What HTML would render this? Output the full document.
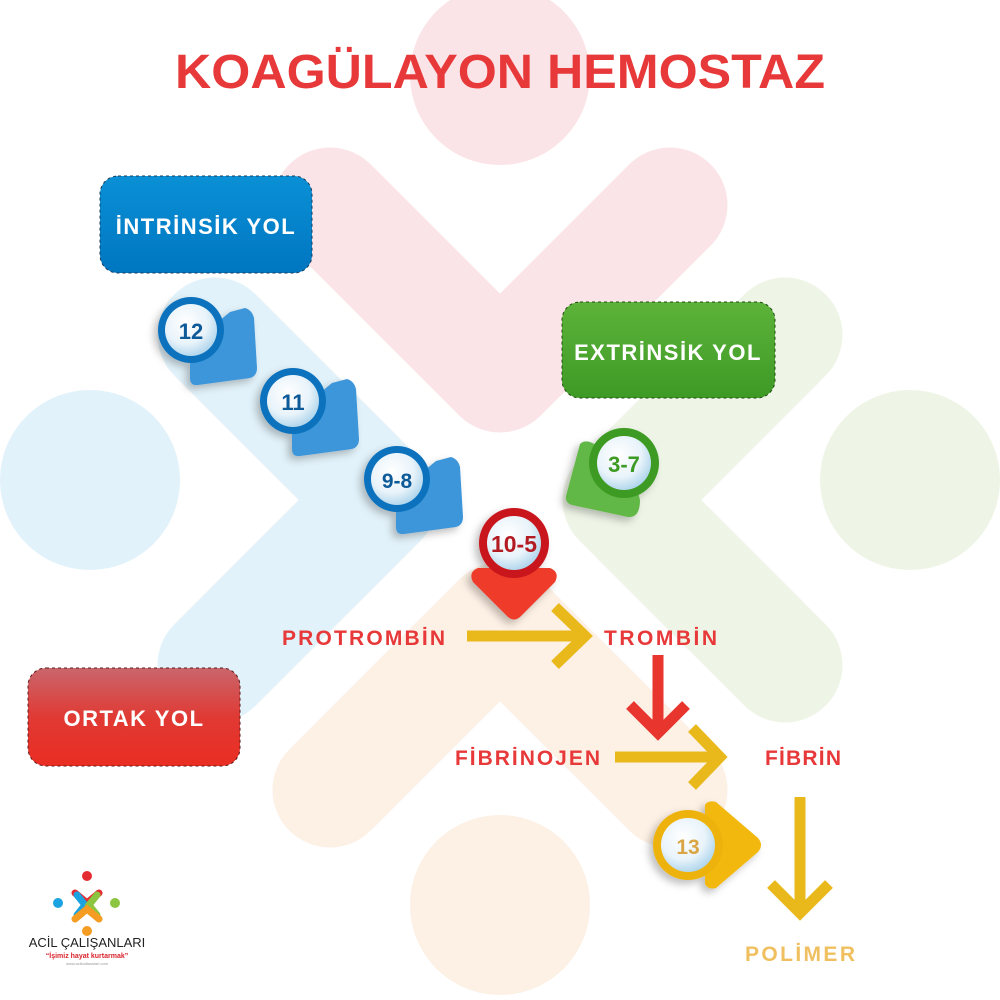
<!DOCTYPE html>
<html><head><meta charset="utf-8"><style>
html,body{margin:0;padding:0;background:#fff}
svg{display:block}
text{font-family:"Liberation Sans","DejaVu Sans",sans-serif;font-weight:bold}
</style></head><body>
<svg width="1000" height="1000" viewBox="0 0 1000 1000" xmlns="http://www.w3.org/2000/svg">
<defs>
<radialGradient id="glass" cx="40%" cy="35%" r="70%">
<stop offset="0" stop-color="#ffffff"/><stop offset="0.6" stop-color="#e8f3fa"/><stop offset="1" stop-color="#a9d2ea"/>
</radialGradient>
<linearGradient id="gb" x1="0" y1="0" x2="0" y2="1"><stop offset="0" stop-color="#0a90d6"/><stop offset="1" stop-color="#0076c0"/></linearGradient>
<linearGradient id="gg" x1="0" y1="0" x2="0" y2="1"><stop offset="0" stop-color="#5db33a"/><stop offset="1" stop-color="#3d9a25"/></linearGradient>
<linearGradient id="gr" x1="0" y1="0" x2="0" y2="1"><stop offset="0" stop-color="#c9666c"/><stop offset="0.5" stop-color="#e03a34"/><stop offset="1" stop-color="#ea2d22"/></linearGradient>
<filter id="sh" x="-30%" y="-30%" width="160%" height="160%"><feDropShadow dx="-4" dy="4" stdDeviation="4" flood-color="#000" flood-opacity="0.25"/></filter>
</defs>
<g stroke-linecap="round" stroke-linejoin="round" fill="none" stroke-width="115">
<polyline points="330,205 500,375 670,205" stroke="#fbe4e7"/>
<polyline points="215,335 380,500 215,665" stroke="#e2f2fa"/>
<polyline points="785,335 620,500 785,665" stroke="#eef5e7"/>
<polyline points="330,790 500,620 670,790" stroke="#fdf0e4"/>
</g>
<circle cx="500" cy="75" r="90" fill="#fbe4e7"/>
<circle cx="90" cy="480" r="90" fill="#e2f2fa"/>
<circle cx="910" cy="480" r="90" fill="#eef5e7"/>
<circle cx="500" cy="905" r="90" fill="#fdf0e4"/>

<text x="175" y="88" font-size="48" fill="#e8393a" textLength="650" lengthAdjust="spacingAndGlyphs">KOAGÜLAYON HEMOSTAZ</text>

<rect x="100" y="176" width="212" height="97" rx="18" fill="url(#gb)" stroke="#1b3b5a" stroke-dasharray="3,3"/>
<text x="206" y="234" text-anchor="middle" font-size="22" fill="#fff" letter-spacing="1.5">İNTRİNSİK YOL</text>
<rect x="562" y="302" width="213" height="96" rx="18" fill="url(#gg)" stroke="#1f4a12" stroke-dasharray="3,3"/>
<text x="668" y="360" text-anchor="middle" font-size="22" fill="#fff" letter-spacing="1.5">EXTRİNSİK YOL</text>
<rect x="28" y="668" width="212" height="98" rx="18" fill="url(#gr)" stroke="#5a1a1a" stroke-dasharray="3,3"/>
<text x="134" y="726" text-anchor="middle" font-size="22" fill="#fff" letter-spacing="1.5">ORTAK YOL</text>

<g filter="url(#sh)">
<path d="M230,312 L245,308 Q252,310 254,318 L257,368 Q257,376 250,378 L198,385 Q190,386 190,378 L190,345 Z" fill="#3d96d9"/>
<circle cx="191" cy="330" r="33" fill="#0a72bd"/>
<circle cx="191" cy="330" r="26" fill="url(#glass)"/>
<text x="191" y="339" text-anchor="middle" font-size="22" fill="#115a98">12</text>
</g>
<g filter="url(#sh)">
<path d="M332,383 L347,379 Q354,381 356,389 L359,439 Q359,447 352,449 L300,456 Q292,457 292,449 L292,416 Z" fill="#3d96d9"/>
<circle cx="293" cy="401" r="33" fill="#0a72bd"/>
<circle cx="293" cy="401" r="26" fill="url(#glass)"/>
<text x="293" y="410" text-anchor="middle" font-size="22" fill="#115a98">11</text>
</g>
<g filter="url(#sh)">
<path d="M436,461 L451,457 Q458,459 460,467 L463,517 Q463,525 456,527 L404,534 Q396,535 396,527 L396,494 Z" fill="#3d96d9"/>
<circle cx="397" cy="479" r="33" fill="#0a72bd"/>
<circle cx="397" cy="479" r="26" fill="url(#glass)"/>
<text x="397" y="488" text-anchor="middle" font-size="21" fill="#115a98">9-8</text>
</g>
<g filter="url(#sh)">
<path d="M580,444 Q584,440 590,442 L630,460 L640,500 Q640,518 628,517 L572,505 Q565,503 566,496 Z" fill="#62b846"/>
<circle cx="624" cy="463" r="35" fill="#3c9a22"/>
<circle cx="624" cy="463" r="27" fill="url(#glass)"/>
<text x="624" y="472" text-anchor="middle" font-size="22" fill="#3c9a22">3-7</text>
</g>
<g filter="url(#sh)">
<path d="M478,568 L550,568 Q560,572 555,582 L520,617 Q514,622 508,617 L473,582 Q468,572 478,568 Z" fill="#ee3a2a"/>
<circle cx="514" cy="543" r="35" fill="#c8171f"/>
<circle cx="514" cy="543" r="27" fill="url(#glass)"/>
<text x="514" y="552" text-anchor="middle" font-size="23" fill="#b21a20">10-5</text>
</g>
<g filter="url(#sh)">
<path d="M705,805 Q708,800 716,802 L758,838 Q764,845 758,852 L716,888 Q708,890 705,884 Z" fill="#f2b80e"/>
<circle cx="688" cy="845" r="35" fill="#eeb20a"/>
<circle cx="688" cy="845" r="27" fill="url(#glass)"/>
<text x="688" y="854" text-anchor="middle" font-size="21" fill="#d9a544">13</text>
</g>

<g font-size="21" fill="#e8393a">
<text x="282" y="645" textLength="163">PROTROMBİN</text>
<text x="604" y="645" textLength="113">TROMBİN</text>
<text x="455" y="765" textLength="145">FİBRİNOJEN</text>
<text x="765" y="765" textLength="76">FİBRİN</text>
</g>
<text x="745" y="961" font-size="21" fill="#f0c060" textLength="110">POLİMER</text>

<g stroke="#e9b91c" stroke-width="11" fill="none" stroke-linejoin="miter">
<line x1="467" y1="636" x2="585" y2="636"/>
<polyline points="555,607 585,636 555,665"/>
<line x1="615" y1="757" x2="720" y2="757"/>
<polyline points="692,728 720,757 692,786"/>
<line x1="800" y1="797" x2="800" y2="912"/>
<polyline points="771,884 800,913 829,884"/>
</g>
<g stroke="#e8352e" stroke-width="11" fill="none">
<line x1="658" y1="655" x2="658" y2="733"/>
<polyline points="630,705 658,733 686,705"/>
</g>

<g transform="translate(87,905)" stroke-linecap="round" stroke-width="7" fill="none">
<polyline points="-12,-12 0,-2 12,-12" stroke="#e52b32"/>
<polyline points="-10,-10 -2,0 -10,10" stroke="#1aa3e0"/>
<polyline points="10,-10 2,0 10,10" stroke="#8cc540"/>
<polyline points="-12,14 0,4 12,14" stroke="#f59c23"/>
</g>
<circle cx="87" cy="876" r="5" fill="#e52b32"/>
<circle cx="58" cy="903" r="5" fill="#1aa3e0"/>
<circle cx="115" cy="903" r="5" fill="#8cc540"/>
<circle cx="87" cy="931" r="5" fill="#f59c23"/>
<text x="87" y="947" text-anchor="middle" font-size="13" fill="#222" style="font-weight:normal">ACİL ÇALIŞANLARI</text>
<text x="87" y="958" text-anchor="middle" font-size="7" fill="#d9232b">“İşimiz hayat kurtarmak”</text>
<text x="87" y="965" text-anchor="middle" font-size="4" fill="#999" style="font-weight:normal">www.acilcalisanlari.com</text>
</svg>
</body></html>
